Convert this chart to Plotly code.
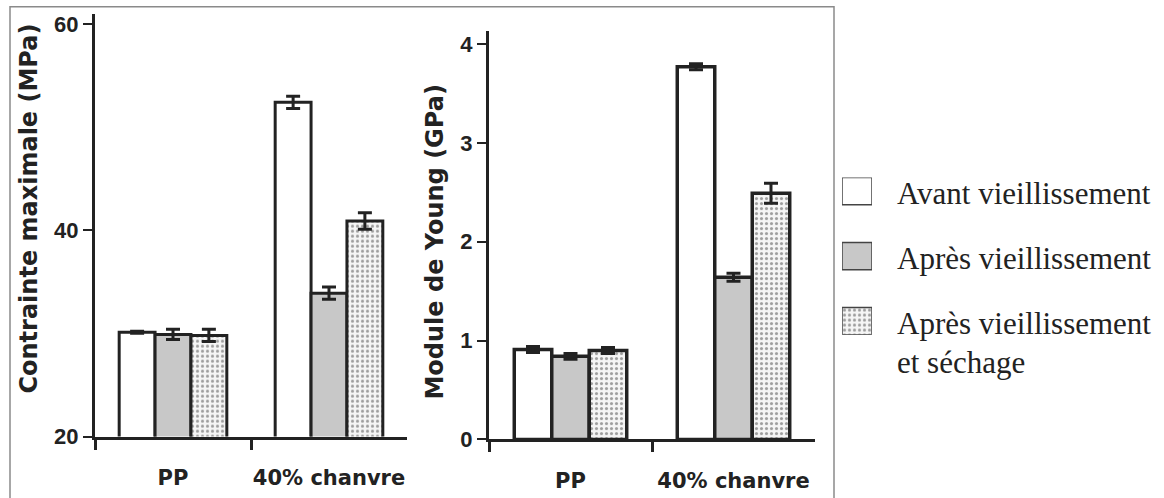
import plotly.graph_objects as go

W, H = 1164, 498

# ---- data ----
categories = ["PP", "40% chanvre"]
series_names = ["Avant vieillissement", "Après vieillissement", "Après vieillissement<br>et séchage"]

stress_avant = [30.1, 52.4]
stress_apres = [29.9, 33.9]
stress_sechage = [29.8, 40.9]
stress_err_avant = [0.1, 0.6]
stress_err_apres = [0.5, 0.6]
stress_err_sechage = [0.6, 0.8]

young_avant = [0.91, 3.77]
young_apres = [0.84, 1.64]
young_sechage = [0.90, 2.49]
young_err_avant = [0.03, 0.03]
young_err_apres = [0.03, 0.04]
young_err_sechage = [0.03, 0.10]

stress_ticks = [20, 40, 60]
young_ticks = [0, 1, 2, 3, 4]

stress_title = "Contrainte maximale (MPa)"
young_title = "Module de Young (GPa)"

# ---- styles ----
INK = "#222222"
GREY = "#c8c8c8"
styles = [
    dict(color="white"),
    dict(color=GREY),
    dict(color="#f5f5f5", pattern=dict(shape=".", bgcolor="#f5f5f5", fgcolor="#444444",
                                          size=5, solidity=0.3)),
]


def px_x(v):
    return v / W


def px_y(v):
    return 1 - v / H


fig = go.Figure()
xpos = list(range(len(categories)))

panels = [
    ("x", "y", [stress_avant, stress_apres, stress_sechage],
     [stress_err_avant, stress_err_apres, stress_err_sechage], 3),
    ("x2", "y2", [young_avant, young_apres, young_sechage],
     [young_err_avant, young_err_apres, young_err_sechage], 3.5),
]
for xa, ya, vals, errs, lw in panels:
    for name, v, e, st in zip(series_names, vals, errs, styles):
        fig.add_trace(go.Bar(
            x=xpos, y=v, name=name, xaxis=xa, yaxis=ya, showlegend=False,
            marker=dict(line=dict(color=INK, width=lw), **st),
            error_y=dict(type="data", array=e, visible=True, color=INK,
                         thickness=3, width=7),
        ))

# legend swatches on their own hidden axes
rows = [0, 1, 2]
for r, st in zip(rows, styles):
    fig.add_trace(go.Bar(
        x=[1], y=[r], orientation="h", width=0.42, xaxis="x3", yaxis="y3",
        showlegend=False, hoverinfo="skip",
        marker=dict(line=dict(color="#444444", width=1.5), **st),
    ))

tick_font = dict(family="Liberation Sans, Arial, sans-serif", size=22, color=INK, weight="bold")
cat_font = dict(family="DejaVu Sans, sans-serif", size=21, color=INK, weight="bold")
title_font = dict(family="DejaVu Sans, sans-serif", size=24, color=INK, weight="bold")


def xaxis_cfg(x0, x1):
    return dict(
        domain=[px_x(x0), px_x(x1)], range=[-0.5, 1.5],
        tickmode="array", tickvals=xpos, ticktext=categories, ticks="",
        tickfont=cat_font, ticklabelstandoff=20,
        showline=True, linewidth=3, linecolor=INK, showgrid=False, zeroline=False,
        minor=dict(tickmode="array", tickvals=[-0.5, 0.5], ticks="outside",
                   ticklen=10, tickwidth=3, tickcolor=INK),
        fixedrange=True,
    )


def yaxis_cfg(y_top, y_bot, rng, ticks):
    return dict(
        domain=[px_y(y_bot), px_y(y_top)], range=rng,
        tickmode="array", tickvals=ticks, ticks="outside", ticklen=9, tickwidth=2,
        tickcolor=INK, tickfont=tick_font,
        showline=True, linewidth=3, linecolor=INK, showgrid=False, zeroline=False,
        fixedrange=True,
    )


fig.update_layout(
    width=W, height=H,
    margin=dict(l=0, r=0, t=0, b=0),
    paper_bgcolor="white", plot_bgcolor="white",
    barmode="group", bargap=0.31, bargroupgap=0,
    xaxis=xaxis_cfg(95, 407),
    yaxis=yaxis_cfg(12, 448, [20, 61], stress_ticks),
    xaxis2=dict(xaxis_cfg(489, 815), anchor="y2"),
    yaxis2=dict(yaxis_cfg(30, 451, [0, 4.13], young_ticks), anchor="x2"),
    xaxis3=dict(domain=[px_x(842), px_x(872)], range=[0, 1], visible=False,
                anchor="y3", fixedrange=True),
    yaxis3=dict(domain=[px_y(343), px_y(181)], range=[2.21, -0.21], visible=False,
                anchor="x3", fixedrange=True),
    showlegend=False,
)

# vertical axis titles
for txt, xc, yc in [(stress_title, 29, 213), (young_title, 435, 248)]:
    fig.add_annotation(x=px_x(xc), y=px_y(yc), xref="paper", yref="paper",
                       text=txt, textangle=-90, showarrow=False,
                       xanchor="center", yanchor="middle", font=title_font)

# legend labels
legend_font = dict(family="Liberation Serif, Times New Roman, serif", size=31, color=INK)
label_rows = [("Avant vieillissement", 197), ("Après vieillissement", 264),
              ("Après vieillissement", 331), ("et séchage", 372)]
for txt, yc in label_rows:
    fig.add_annotation(x=px_x(895), y=px_y(yc), xref="paper", yref="paper",
                       text=txt, showarrow=False, xanchor="left", yanchor="middle",
                       font=legend_font)

# frame around the two panels
fig.add_shape(type="rect", xref="paper", yref="paper",
              x0=px_x(10), x1=px_x(834), y0=-0.05, y1=px_y(5),
              line=dict(color="#8a8a8a", width=1.5), fillcolor="rgba(0,0,0,0)")

fig.write_html("out.html")
